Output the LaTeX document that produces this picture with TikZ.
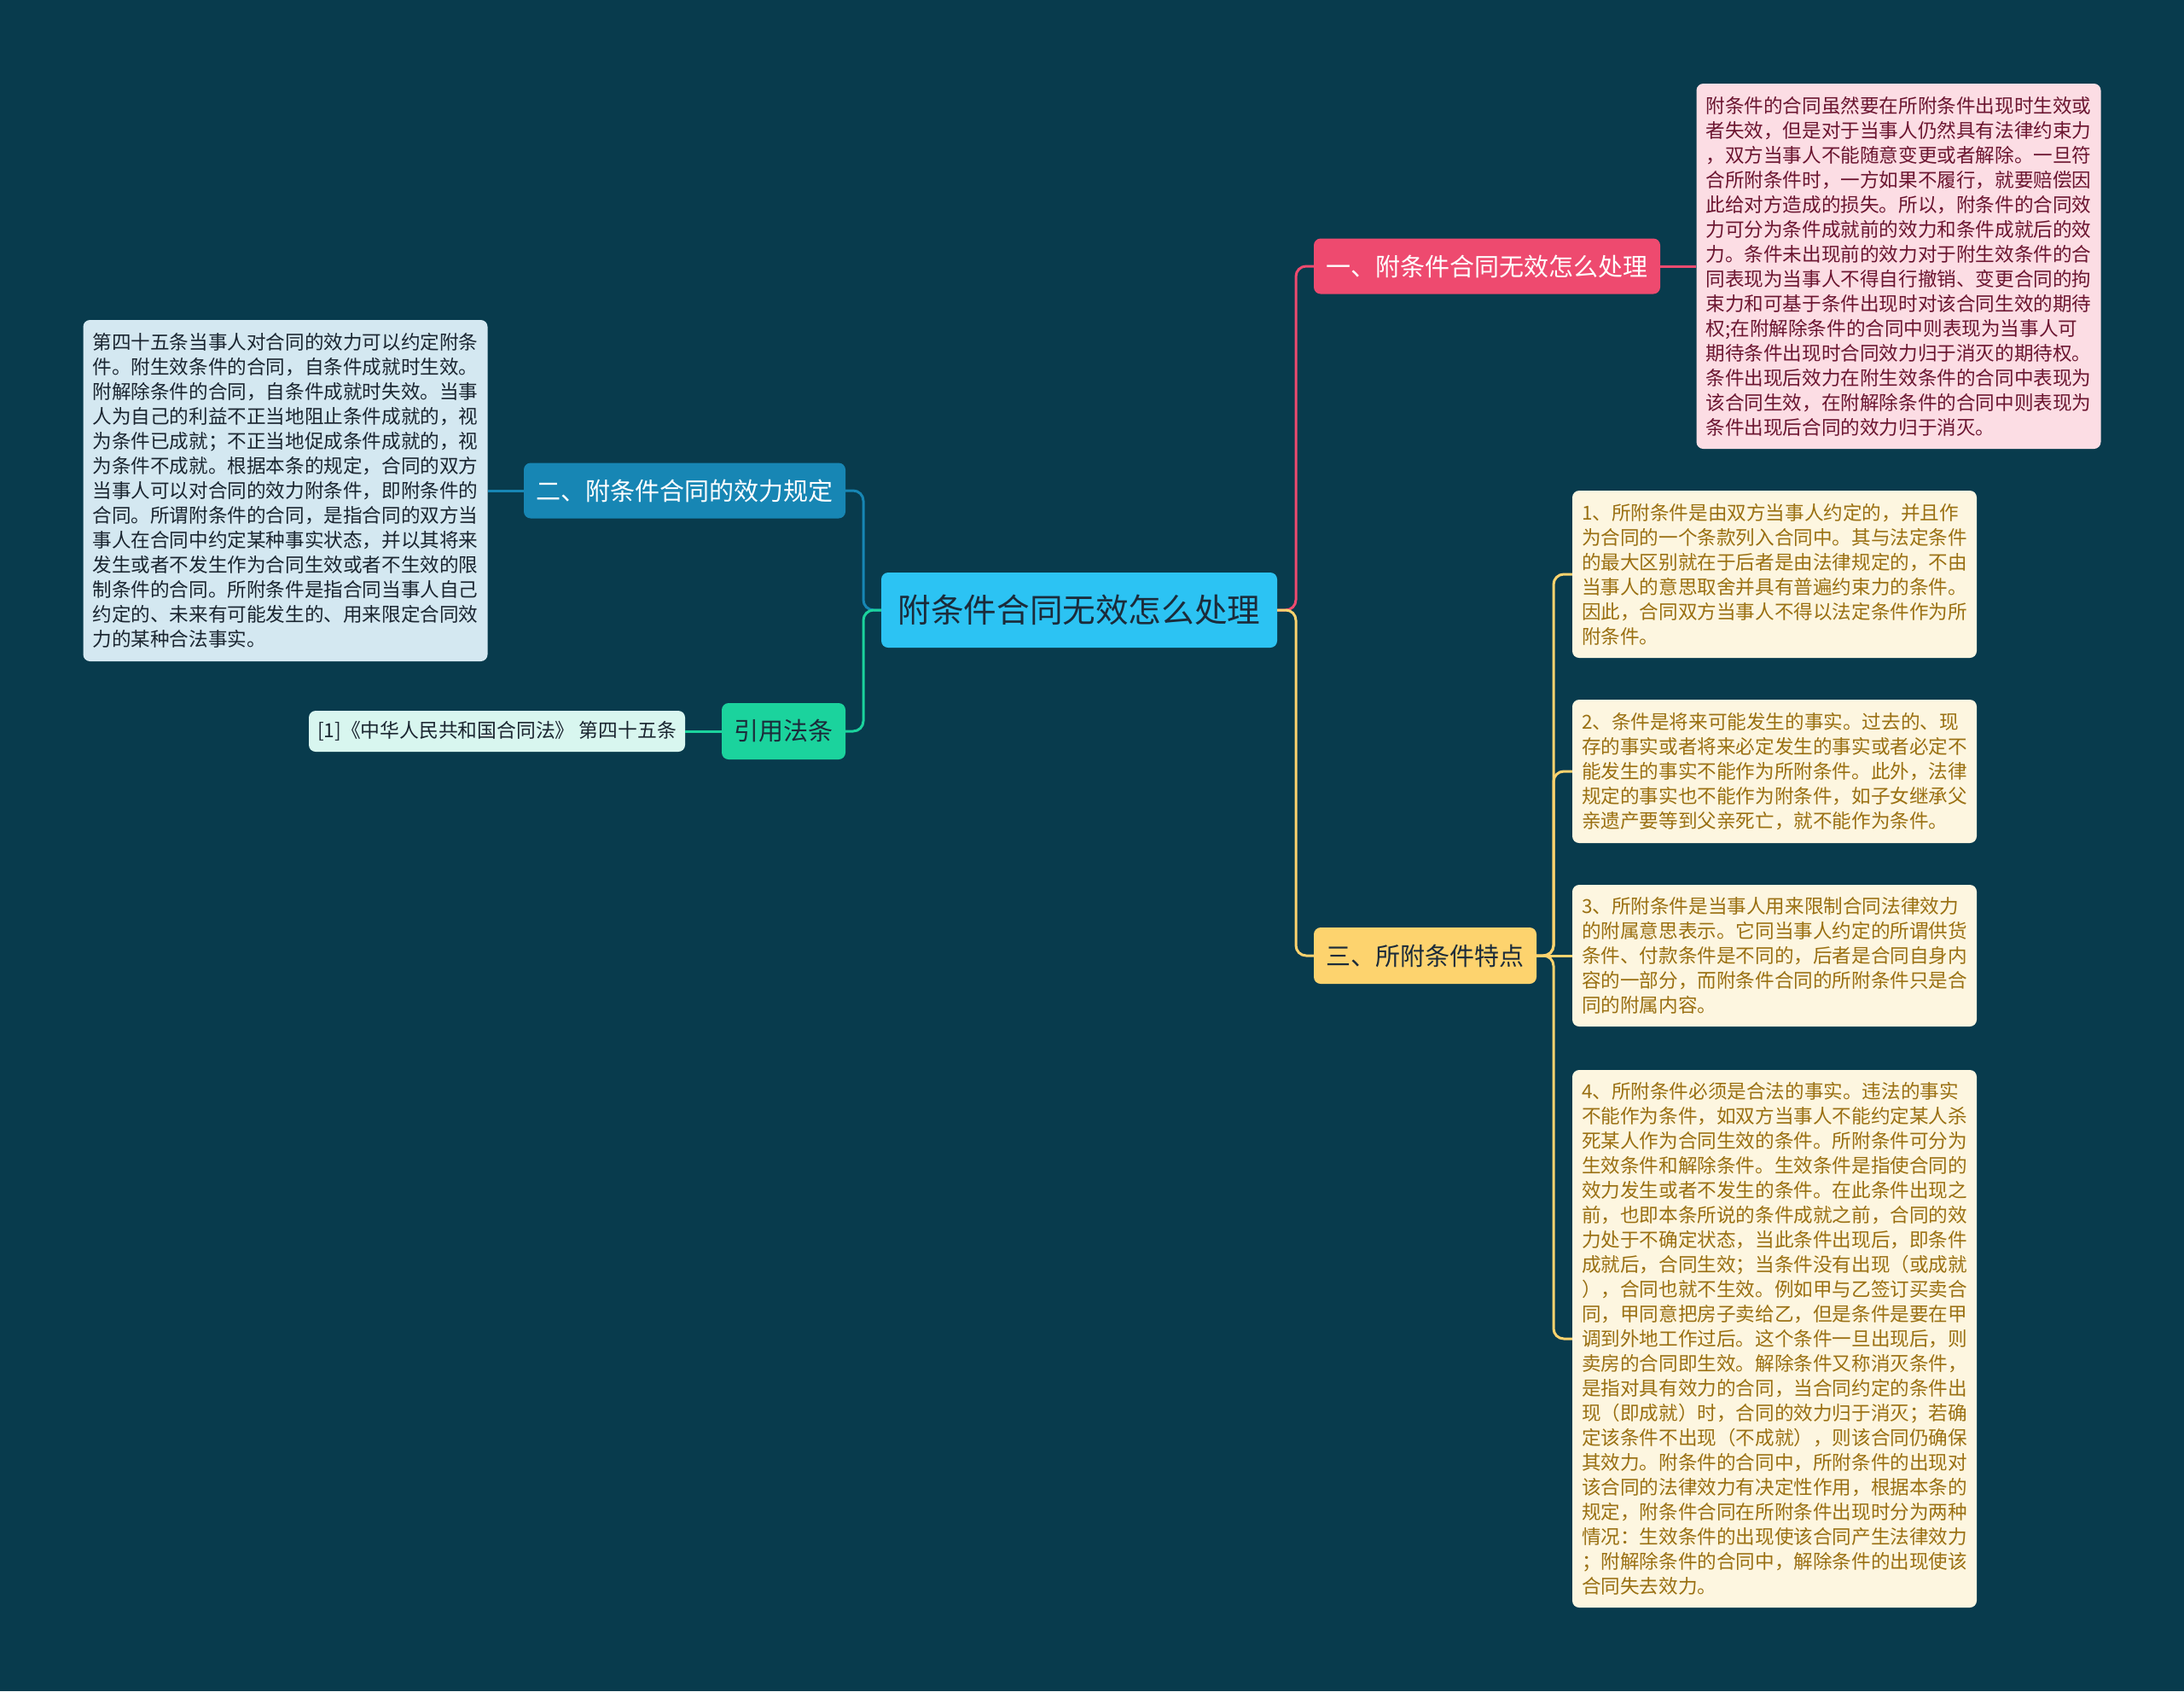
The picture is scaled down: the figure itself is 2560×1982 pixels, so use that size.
\documentclass[tikz,border=0pt]{standalone}
\usepackage{fontspec}
\newfontfamily\cjk{Noto Sans CJK SC}
\definecolor{bg}{HTML}{083B4D}
\definecolor{cmain}{HTML}{2CC3F3}
\definecolor{cpink}{HTML}{EE4A6F}
\definecolor{cyel}{HTML}{FDD36E}
\definecolor{cblue}{HTML}{1786B4}
\definecolor{cgreen}{HTML}{1BD39D}
\definecolor{lpink}{HTML}{FCDDE4}
\definecolor{lblue}{HTML}{D4E8F1}
\definecolor{lgreen}{HTML}{D8F6EF}
\definecolor{lyel}{HTML}{FDF6E0}
\definecolor{tpink}{HTML}{6B1530}
\definecolor{tblue}{HTML}{1A2530}
\definecolor{tyel}{HTML}{9A7012}
\definecolor{tdark}{HTML}{1B2B3A}
\tikzset{
  branch/.style={rounded corners=8pt, inner sep=0pt, align=center, font=\cjk\fontsize{29}{34}\selectfont},
  leafbox/.style={rounded corners=8pt, inner xsep=11pt, inner ysep=0pt, align=left, font=\cjk\fontsize{22.6}{29}\selectfont},
  conn/.style={line width=3pt, rounded corners=12pt}
}
\begin{document}
\begin{tikzpicture}[x=1pt,y=-1pt]
\fill[bg] (0,0) rectangle (2560,1982);
\useasboundingbox (0,0) rectangle (2560,1982);

% center
\node[branch, fill=cmain, text=tdark, minimum width=464pt, minimum height=88pt, font=\cjk\fontsize{38.6}{44}\selectfont] (c) at (1265,715) {附条件合同无效怎么处理};

% branches
\node[branch, fill=cpink, text=white, minimum width=406pt, minimum height=65pt] (b1) at (1743,312) {一、附条件合同无效怎么处理};
\node[branch, fill=cyel, text=tdark, minimum width=261pt, minimum height=66pt] (b3) at (1670.5,1120) {三、所附条件特点};
\node[branch, fill=cblue, text=white, minimum width=377pt, minimum height=65pt] (b2) at (802.5,575) {二、附条件合同的效力规定};
\node[branch, fill=cgreen, text=tdark, minimum width=145pt, minimum height=66pt] (b4) at (918.5,857) {引用法条};

% leaves
\node[leafbox, fill=lpink, text=tpink, text width=452pt, minimum height=428pt] (p1) at (2225.5,312) {附条件的合同虽然要在所附条件出现时生效或\\者失效，但是对于当事人仍然具有法律约束力\\，双方当事人不能随意变更或者解除。一旦符\\合所附条件时，一方如果不履行，就要赔偿因\\此给对方造成的损失。所以，附条件的合同效\\力可分为条件成就前的效力和条件成就后的效\\力。条件未出现前的效力对于附生效条件的合\\同表现为当事人不得自行撤销、变更合同的拘\\束力和可基于条件出现时对该合同生效的期待\\权;在附解除条件的合同中则表现为当事人可\\期待条件出现时合同效力归于消灭的期待权。\\条件出现后效力在附生效条件的合同中表现为\\该合同生效，在附解除条件的合同中则表现为\\条件出现后合同的效力归于消灭。};

\node[leafbox, fill=lblue, text=tblue, text width=452pt, minimum height=400pt] (l2) at (334.5,575) {第四十五条当事人对合同的效力可以约定附条\\件。附生效条件的合同，自条件成就时生效。\\附解除条件的合同，自条件成就时失效。当事\\人为自己的利益不正当地阻止条件成就的，视\\为条件已成就；不正当地促成条件成就的，视\\为条件不成就。根据本条的规定，合同的双方\\当事人可以对合同的效力附条件，即附条件的\\合同。所谓附条件的合同，是指合同的双方当\\事人在合同中约定某种事实状态，并以其将来\\发生或者不发生作为合同生效或者不生效的限\\制条件的合同。所附条件是指合同当事人自己\\约定的、未来有可能发生的、用来限定合同效\\力的某种合法事实。};

\node[rounded corners=8pt, inner sep=0pt, fill=lgreen, text=tblue, minimum width=441pt, minimum height=48pt, font=\cjk\fontsize{22.8}{26}\selectfont] (l4) at (582.5,857) {[1]《中华人民共和国合同法》~第四十五条};

\node[leafbox, fill=lyel, text=tyel, text width=452pt, minimum height=196pt] (y1) at (2080,673) {1、所附条件是由双方当事人约定的，并且作\\为合同的一个条款列入合同中。其与法定条件\\的最大区别就在于后者是由法律规定的，不由\\当事人的意思取舍并具有普遍约束力的条件。\\因此，合同双方当事人不得以法定条件作为所\\附条件。};

\node[leafbox, fill=lyel, text=tyel, text width=452pt, minimum height=168pt] (y2) at (2080,904) {2、条件是将来可能发生的事实。过去的、现\\存的事实或者将来必定发生的事实或者必定不\\能发生的事实不能作为所附条件。此外，法律\\规定的事实也不能作为附条件，如子女继承父\\亲遗产要等到父亲死亡，就不能作为条件。};

\node[leafbox, fill=lyel, text=tyel, text width=452pt, minimum height=166pt] (y3) at (2080,1120) {3、所附条件是当事人用来限制合同法律效力\\的附属意思表示。它同当事人约定的所谓供货\\条件、付款条件是不同的，后者是合同自身内\\容的一部分，而附条件合同的所附条件只是合\\同的附属内容。};

\node[leafbox, fill=lyel, text=tyel, text width=452pt, minimum height=630pt] (y4) at (2080,1569) {4、所附条件必须是合法的事实。违法的事实\\不能作为条件，如双方当事人不能约定某人杀\\死某人作为合同生效的条件。所附条件可分为\\生效条件和解除条件。生效条件是指使合同的\\效力发生或者不发生的条件。在此条件出现之\\前，也即本条所说的条件成就之前，合同的效\\力处于不确定状态，当此条件出现后，即条件\\成就后，合同生效；当条件没有出现（或成就\\），合同也就不生效。例如甲与乙签订买卖合\\同，甲同意把房子卖给乙，但是条件是要在甲\\调到外地工作过后。这个条件一旦出现后，则\\卖房的合同即生效。解除条件又称消灭条件，\\是指对具有效力的合同，当合同约定的条件出\\现（即成就）时，合同的效力归于消灭；若确\\定该条件不出现（不成就），则该合同仍确保\\其效力。附条件的合同中，所附条件的出现对\\该合同的法律效力有决定性作用，根据本条的\\规定，附条件合同在所附条件出现时分为两种\\情况：生效条件的出现使该合同产生法律效力\\；附解除条件的合同中，解除条件的出现使该\\合同失去效力。};

% connectors
\coordinate (jr) at (1519,715);
\coordinate (jl) at (1012,715);
\coordinate (jy) at (1821,1120);
\draw[conn, cpink] (c.east) -- (jr) |- (b1.west);
\draw[conn, cyel] (c.east) -- (jr) |- (b3.west);
\draw[conn, cblue] (c.west) -- (jl) |- (b2.east);
\draw[conn, cgreen] (c.west) -- (jl) |- (b4.east);
\draw[conn, cpink] (b1.east) -- (p1.west);
\draw[conn, cblue] (b2.west) -- (l2.east);
\draw[conn, cgreen] (b4.west) -- (l4.east);
\draw[conn, cyel] (b3.east) -- (jy) |- (y1.west);
\draw[conn, cyel] (b3.east) -- (jy) |- (y2.west);
\draw[conn, cyel] (b3.east) -- (y3.west);
\draw[conn, cyel] (b3.east) -- (jy) |- (y4.west);
\end{tikzpicture}
\end{document}
